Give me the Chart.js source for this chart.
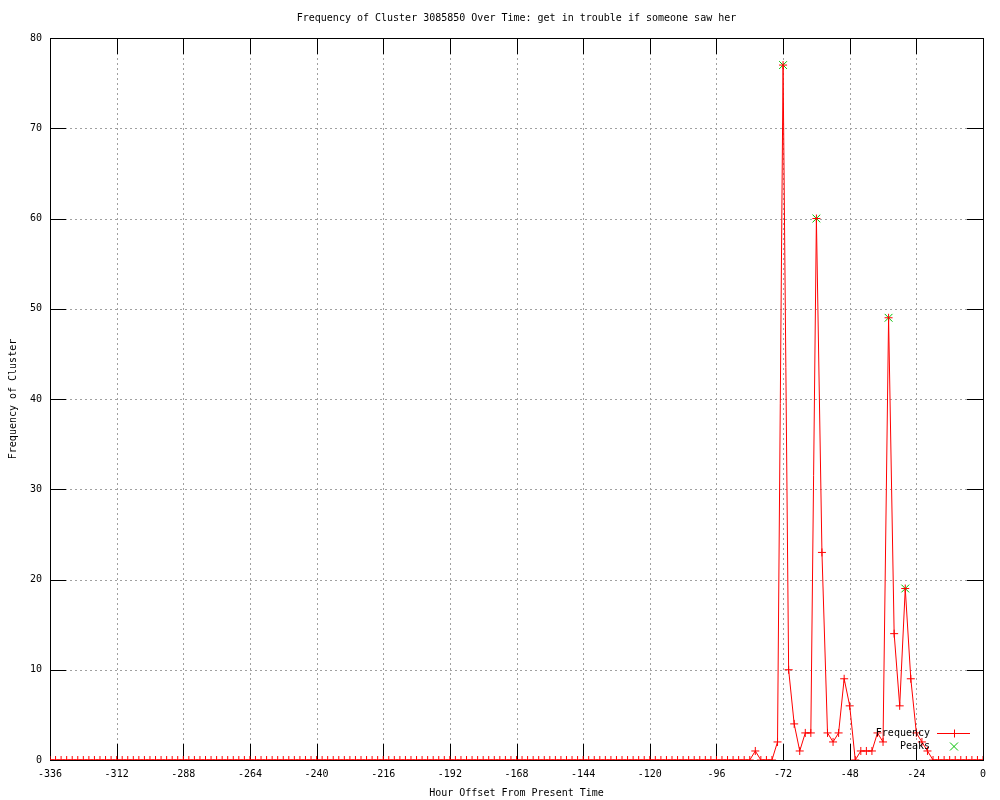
<!DOCTYPE html>
<html>
<head>
<meta charset="utf-8">
<title>Frequency of Cluster 3085850</title>
<script src="https://cdn.jsdelivr.net/npm/chart.js@4.4.1/dist/chart.umd.min.js"></script>
<style>
  html, body { margin: 0; padding: 0; background: #fff; }
  #wrap { width: 1000px; height: 800px; }
</style>
</head>
<body>
<div id="wrap"><canvas id="grafico" width="1000" height="800"></canvas></div>
<script>
// valores
var tituloGrafico = 'Frequency of Cluster 3085850 Over Time: get in trouble if someone saw her';
var tituloEixoX = 'Hour Offset From Present Time';
var tituloEixoY = 'Frequency of Cluster';

var horaInicio = -336, passoHora = 2; // um ponto a cada 2 horas, de -336 ate 0
var frequencia = [
    0, 0, 0, 0, 0, 0, 0, 0, 0, 0,   // -336 .. -318
    0, 0, 0, 0, 0, 0, 0, 0, 0, 0,   // -316 .. -298
    0, 0, 0, 0, 0, 0, 0, 0, 0, 0,   // -296 .. -278
    0, 0, 0, 0, 0, 0, 0, 0, 0, 0,   // -276 .. -258
    0, 0, 0, 0, 0, 0, 0, 0, 0, 0,   // -256 .. -238
    0, 0, 0, 0, 0, 0, 0, 0, 0, 0,   // -236 .. -218
    0, 0, 0, 0, 0, 0, 0, 0, 0, 0,   // -216 .. -198
    0, 0, 0, 0, 0, 0, 0, 0, 0, 0,   // -196 .. -178
    0, 0, 0, 0, 0, 0, 0, 0, 0, 0,   // -176 .. -158
    0, 0, 0, 0, 0, 0, 0, 0, 0, 0,   // -156 .. -138
    0, 0, 0, 0, 0, 0, 0, 0, 0, 0,   // -136 .. -118
    0, 0, 0, 0, 0, 0, 0, 0, 0, 0,   // -116 .. -98
    0, 0, 0, 0, 0, 0, 0,            // -96 .. -84
    1, 0, 0, 0, 2, 77, 10, 4, 1, 3, // -82 .. -64
    3, 60, 23, 3, 2, 3, 9, 6, 0, 1, // -62 .. -44
    1, 1, 3, 2, 49, 14, 6, 19, 9, 3,// -42 .. -24
    2, 1, 0, 0, 0, 0, 0, 0, 0, 0,   // -22 .. -4
    0, 0                            // -2 .. 0
];

var picosHoras = [-72, -60, -34, -28];
var picosValores = [77, 60, 49, 19];

var ticksX = [-336, -312, -288, -264, -240, -216, -192, -168, -144, -120, -96, -72, -48, -24, 0];
var ticksY = [0, 10, 20, 30, 40, 50, 60, 70, 80];

var pontosFreq = [];
for (var i = 0; i < frequencia.length; i++) {
    pontosFreq.push({ x: horaInicio + i * passoHora, y: frequencia[i] });
}
var pontosPicos = [];
for (var k = 0; k < picosHoras.length; k++) {
    pontosPicos.push({ x: picosHoras[k], y: picosValores[k] });
}

var fonte = "'DejaVu Sans Mono', 'Liberation Mono', monospace";
Chart.defaults.font.family = fonte;
Chart.defaults.font.size = 10;
Chart.defaults.color = '#000';

// grade pontilhada, moldura e marcas para dentro (estilo gnuplot)
var moldura = {
    id: 'moldura',
    beforeDatasetsDraw: function (chart) {
        var ctx = chart.ctx, a = chart.chartArea,
            sx = chart.scales.x, sy = chart.scales.y, tam = 16;
        ctx.save();
        ctx.lineWidth = 1;
        ctx.strokeStyle = '#a0a0a0';
        ctx.setLineDash([2, 3]);
        ticksX.forEach(function (v) {
            var px = Math.round(sx.getPixelForValue(v)) + 0.5;
            if (v === ticksX[0] || v === ticksX[ticksX.length - 1]) return;
            ctx.beginPath(); ctx.moveTo(px, a.top); ctx.lineTo(px, a.bottom); ctx.stroke();
        });
        ticksY.forEach(function (v) {
            var py = Math.round(sy.getPixelForValue(v)) + 0.5;
            if (v === ticksY[0] || v === ticksY[ticksY.length - 1]) return;
            ctx.beginPath(); ctx.moveTo(a.left, py); ctx.lineTo(a.right, py); ctx.stroke();
        });
        ctx.setLineDash([]);
        ctx.strokeStyle = '#000';
        ticksX.forEach(function (v) {
            var px = Math.round(sx.getPixelForValue(v)) + 0.5;
            ctx.beginPath();
            ctx.moveTo(px, a.bottom); ctx.lineTo(px, a.bottom - tam);
            ctx.moveTo(px, a.top); ctx.lineTo(px, a.top + tam);
            ctx.stroke();
        });
        ticksY.forEach(function (v) {
            var py = Math.round(sy.getPixelForValue(v)) + 0.5;
            ctx.beginPath();
            ctx.moveTo(a.left, py); ctx.lineTo(a.left + tam, py);
            ctx.moveTo(a.right, py); ctx.lineTo(a.right - tam, py);
            ctx.stroke();
        });
        ctx.strokeRect(Math.round(a.left) + 0.5, Math.round(a.top) + 0.5,
            Math.round(a.right - a.left), Math.round(a.bottom - a.top));
        ctx.restore();
    }
};

// legenda no canto inferior direito, texto a esquerda e amostra a direita
var legendaGnuplot = {
    id: 'legendaGnuplot',
    afterDraw: function (chart) {
        var ctx = chart.ctx, a = chart.chartArea;
        var xTexto = a.right - 53, x0 = a.right - 46, x1 = a.right - 13, xm = a.right - 29;
        ctx.save();
        ctx.font = '10px ' + fonte;
        ctx.textAlign = 'right';
        ctx.textBaseline = 'middle';
        chart.data.datasets.forEach(function (ds, i) {
            var y = a.bottom - 27 + i * 13 + 0.5;
            ctx.fillStyle = '#000';
            ctx.fillText(ds.label, xTexto, y);
            ctx.strokeStyle = ds.borderColor;
            ctx.lineWidth = 1;
            ctx.beginPath();
            if (ds.showLine !== false) {
                ctx.moveTo(x0, y); ctx.lineTo(x1, y);
                ctx.moveTo(xm + 0.5, y - 4); ctx.lineTo(xm + 0.5, y + 4);
            } else {
                ctx.moveTo(xm - 4, y - 4); ctx.lineTo(xm + 4, y + 4);
                ctx.moveTo(xm - 4, y + 4); ctx.lineTo(xm + 4, y - 4);
            }
            ctx.stroke();
        });
        ctx.restore();
    }
};

var config = {
    type: 'line',
    data: {
        datasets: [{
            label: 'Frequency',
            data: pontosFreq,
            borderColor: '#ff0000',
            backgroundColor: '#ff0000',
            borderWidth: 1,
            fill: false,
            tension: 0,
            pointStyle: 'cross',
            pointRadius: 4,
            pointBorderWidth: 1,
            pointBorderColor: '#ff0000'
        }, {
            label: 'Peaks',
            data: pontosPicos,
            showLine: false,
            borderColor: '#00c000',
            backgroundColor: '#00c000',
            pointStyle: 'crossRot',
            pointRadius: 5.5,
            pointBorderWidth: 1,
            pointBorderColor: '#00c000'
        }]
    },
    options: {
        responsive: false,
        animation: false,
        devicePixelRatio: 1,
        layout: { padding: { left: 0, right: 17, top: 0, bottom: 0 } },
        plugins: {
            legend: { display: false },
            tooltip: { enabled: false },
            title: {
                display: true,
                fullSize: false,
                text: tituloGrafico,
                color: '#000',
                font: { size: 10, weight: 'normal', family: fonte },
                padding: { top: 12, bottom: 14 }
            }
        },
        scales: {
            x: {
                type: 'linear',
                min: -336,
                max: 0,
                grid: { display: false, drawTicks: false },
                border: { display: false },
                ticks: {
                    stepSize: 24,
                    autoSkip: false,
                    maxRotation: 0,
                    padding: 8,
                    color: '#000'
                },
                title: {
                    display: true,
                    text: tituloEixoX,
                    color: '#000',
                    padding: { top: 0, bottom: 1 }
                },
                afterFit: function (s) { s.height = 40; s.paddingLeft = 0; s.paddingRight = 0; }
            },
            y: {
                min: 0,
                max: 80,
                grid: { display: false, drawTicks: false },
                border: { display: false },
                ticks: {
                    stepSize: 10,
                    padding: 8,
                    color: '#000'
                },
                title: {
                    display: true,
                    text: tituloEixoY,
                    color: '#000',
                    padding: { top: 7, bottom: 0 }
                },
                afterFit: function (s) { s.width = 50; s.paddingTop = 0; s.paddingBottom = 0; }
            }
        }
    },
    plugins: [moldura, legendaGnuplot]
};

var grafico = new Chart(document.getElementById('grafico').getContext('2d'), config);
</script>
</body>
</html>
